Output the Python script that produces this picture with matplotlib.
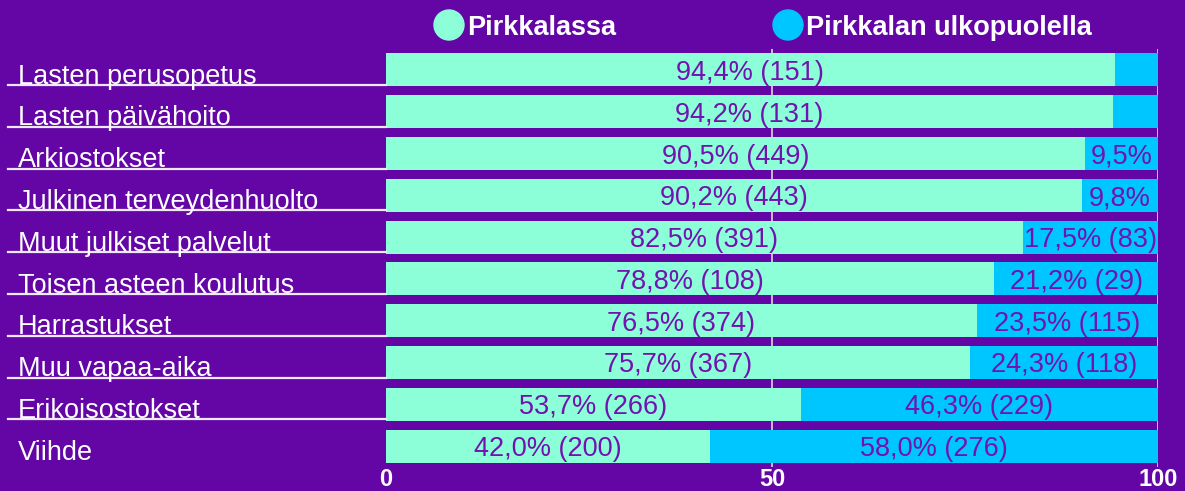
import matplotlib
matplotlib.use("Agg")
import matplotlib.pyplot as plt
from matplotlib.patches import Ellipse
from matplotlib.lines import Line2D
from matplotlib.transforms import blended_transform_factory

plt.rcParams['font.family'] = ['Liberation Sans', 'DejaVu Sans']

# data
categories = ["Lasten perusopetus", "Lasten päivähoito", "Arkiostokset",
              "Julkinen terveydenhuolto", "Muut julkiset palvelut",
              "Toisen asteen koulutus", "Harrastukset", "Muu vapaa-aika",
              "Erikoisostokset", "Viihde"]
inside_pct = [94.4, 94.2, 90.5, 90.2, 82.5, 78.8, 76.5, 75.7, 53.7, 42.0]
inside_n = [151, 131, 449, 443, 391, 108, 374, 367, 266, 200]
outside_pct = [5.6, 5.8, 9.5, 9.8, 17.5, 21.2, 23.5, 24.3, 46.3, 58.0]
outside_n = [None, None, None, None, 83, 29, 115, 118, 229, 276]
show_outside = [False, False, True, True, True, True, True, True, True, True]
series_names = ["Pirkkalassa", "Pirkkalan ulkopuolella"]
xticks = [0, 50, 100]

bg = '#6306A5'
teal = '#8CFFD8'
blue = '#00C6FF'
txt_purple = '#7212B0'

fig = plt.figure(figsize=(11.85, 4.91), dpi=100, facecolor=bg)
ax = fig.add_axes([386/1185, 1 - 467/491, 772/1185, 418/491])
ax.set_facecolor(bg)

y = list(range(len(categories)))
ax.barh(y, inside_pct, height=0.79, color=teal, zorder=2)
ax.barh(y, outside_pct, left=inside_pct, height=0.79, color=blue, zorder=2)

def fmt(v):
    return ("%.1f" % v).replace('.', ',') + '%'

for i in y:
    ax.text(inside_pct[i] / 2, i, "%s (%d)" % (fmt(inside_pct[i]), inside_n[i]),
            ha='center', va='center_baseline', fontsize=19.5, color=txt_purple, zorder=3)
    if show_outside[i]:
        lab = fmt(outside_pct[i])
        if outside_n[i] is not None:
            lab += " (%d)" % outside_n[i]
        ax.text(inside_pct[i] + outside_pct[i] / 2, i, lab, ha='center', va='center_baseline',
                fontsize=19.5, color=txt_purple, zorder=3, clip_on=True)

ax.set_xlim(0, 100)
ax.set_ylim(len(categories) - 0.5, -0.5)
ax.set_yticks([])
ax.set_xticks(xticks)
ax.set_xticklabels([str(t) for t in xticks], fontsize=17, fontweight='bold', color='white')
ax.tick_params(axis='x', length=0, pad=0.5)
for s in ax.spines.values():
    s.set_visible(False)
for t in [50, 100]:
    ax.axvline(t, color='#D8D8E0', lw=1.2, zorder=1)

# category labels and underlines on the left
tr = blended_transform_factory(fig.transFigure, ax.transData)
for i, c in enumerate(categories):
    ax.text(18/1185, i + 0.33, c, transform=tr, ha='left', va='baseline',
            fontsize=19.5, color='white', clip_on=False)
    if i < len(categories) - 1:
        ax.add_line(Line2D([8/1185, 386/1185], [i + 0.36, i + 0.36], transform=tr,
                           color='#F0E8F8', lw=1.6, clip_on=False))

# legend
leg_x = [449, 788]
leg_cols = [teal, blue]
for lx, col, name in zip(leg_x, leg_cols, series_names):
    fig.patches.append(Ellipse((lx/1185, 1 - 25/491), 30/1185, 30/491,
                               transform=fig.transFigure, color=col))
    fig.text((lx + 18)/1185, 1 - 25/491, name, ha='left', va='center_baseline',
             fontsize=19.5, fontweight='bold', color='white')

fig.savefig('out.png', dpi=100, facecolor=bg)
